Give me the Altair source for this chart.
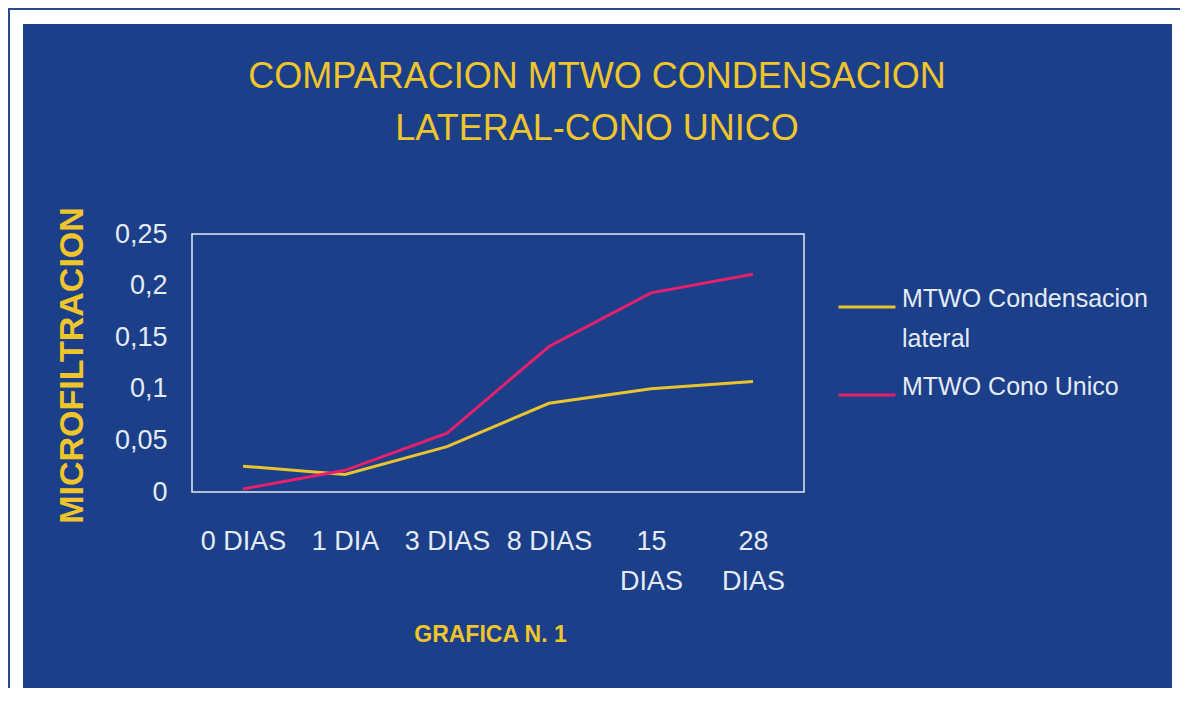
import altair as alt
import pandas as pd

# ---- data ----
categories = ["0 DIAS", "1 DIA", "3 DIAS", "8 DIAS", "15 DIAS", "28 DIAS"]
series_names = ["MTWO Condensacion lateral", "MTWO Cono Unico"]
condensacion_lateral = [0.025, 0.017, 0.044, 0.086, 0.100, 0.107]
cono_unico = [0.003, 0.021, 0.057, 0.141, 0.193, 0.211]
y_ticks = [0, 0.05, 0.1, 0.15, 0.2, 0.25]
title_lines = ["COMPARACION MTWO CONDENSACION", "LATERAL-CONO UNICO"]
y_title = "MICROFILTRACION"
x_title = "GRAFICA N. 1"
series_colors = ["#e9c42e", "#e6206c"]

# ---- styling ----
PANEL = "#1b3f88"
YELLOW = "#f0c52c"
LIGHT = "#e4ebf5"
FONT = "Liberation Sans"

df = pd.DataFrame({
    "dia": categories * 2,
    "serie": [series_names[0]] * len(categories) + [series_names[1]] * len(categories),
    "valor": condensacion_lateral + cono_unico,
})
one = pd.DataFrame({"k": [0]})

wrap_label = series_names[0].rsplit(" ", 1)
legend_expr = (
    f"datum.label === '{series_names[0]}' ? ['{wrap_label[0]}', '{wrap_label[1]}'] : datum.label"
)
x_label_expr = "datum.label === '15 DIAS' || datum.label === '28 DIAS' ? split(datum.label, ' ') : datum.label"

frame = alt.Chart(one).mark_rect(fillOpacity=0, stroke="#2a4a94", strokeWidth=2).encode(
    x=alt.value(-183), x2=alt.value(1100), y=alt.value(-225), y2=alt.value(700)
)
panel = alt.Chart(one).mark_rect(color=PANEL).encode(
    x=alt.value(-169), x2=alt.value(980), y=alt.value(-210), y2=alt.value(461)
)
plotbox = alt.Chart(one).mark_rect(fillOpacity=0, stroke=LIGHT, strokeWidth=1.5).encode(
    x=alt.value(0), x2=alt.value(612), y=alt.value(0), y2=alt.value(258)
)
title = alt.Chart(one).mark_text(
    fontSize=36, color=YELLOW, align="center", baseline="middle", lineHeight=52, font=FONT
).encode(x=alt.value(405), y=alt.value(-157), text=alt.value(title_lines))

lines = alt.Chart(df).mark_line(strokeWidth=3).encode(
    x=alt.X(
        "dia:N",
        sort=categories,
        scale=alt.Scale(padding=0.5),
        axis=alt.Axis(
            title=x_title, titleColor=YELLOW, titleFontSize=23, titleFontWeight="bold",
            titleX=298, titleY=142, titleBaseline="middle", titleAlign="center",
            labelAngle=0, labelFontSize=27, labelColor=LIGHT, labelPadding=36,
            labelBaseline="top", labelLineHeight=40, labelExpr=x_label_expr,
            labelOverlap=False, ticks=False, domain=False, grid=False, zindex=1,
        ),
    ),
    y=alt.Y(
        "valor:Q",
        scale=alt.Scale(domain=[0, 0.25], nice=False),
        axis=alt.Axis(
            values=y_ticks, title=y_title, titleColor=YELLOW, titleFontSize=34,
            titleFontWeight="bold", titleX=-120, titleY=131, titleAngle=270,
            titleBaseline="middle", titleAlign="center",
            labelExpr="replace(format(datum.value, '~g'), '.', ',')",
            labelFontSize=27, labelColor=LIGHT, labelPadding=25, labelBaseline="middle",
            ticks=False, domain=False, grid=False, zindex=1,
        ),
    ),
    color=alt.Color(
        "serie:N",
        scale=alt.Scale(domain=series_names, range=series_colors),
        legend=alt.Legend(
            title=None, orient="none", legendX=645, legendY=43,
            symbolType="stroke", symbolSize=3249, symbolStrokeWidth=3,
            labelFontSize=25, labelColor=LIGHT, labelOffset=5, labelLimit=400,
            labelBaseline="alphabetic", labelExpr=legend_expr,
            rowPadding=13, padding=0, zindex=1,
        ),
    ),
)

chart = alt.layer(frame, panel, plotbox, title, lines).properties(
    width=612, height=258,
    autosize=alt.AutoSizeParams(type="none"),
    padding={"left": 184, "top": 226, "right": 376, "bottom": 196},
).configure(
    background="white", font=FONT, style={"guide-label": {"lineHeight": 40}}
).configure_view(stroke=None)

chart.save("out.html", embed_options={"renderer": "svg", "actions": False})
